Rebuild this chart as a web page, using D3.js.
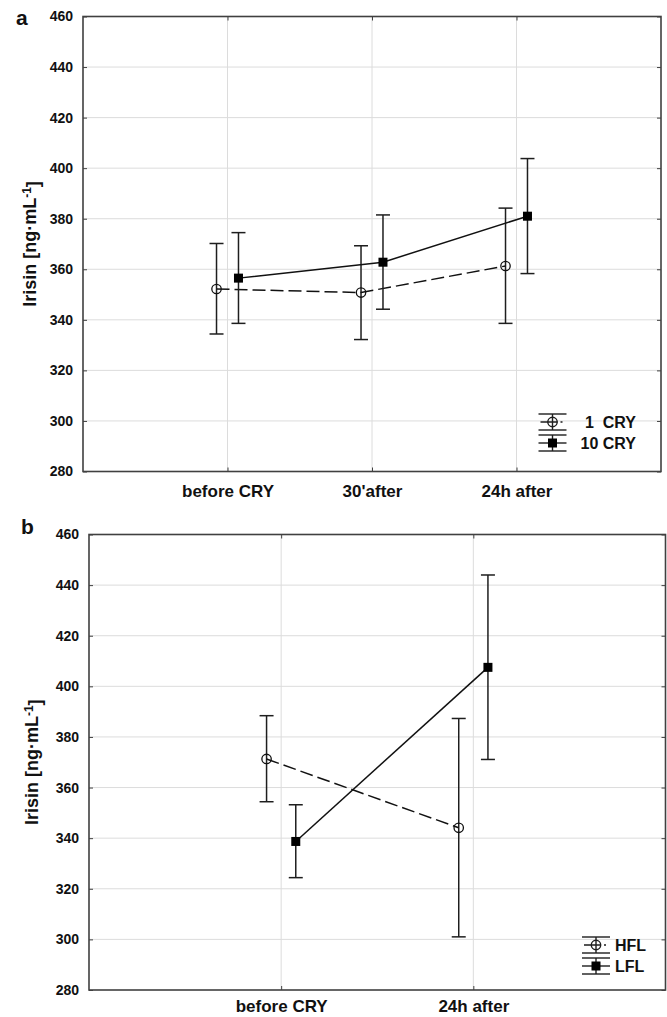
<!DOCTYPE html>
<html>
<head>
<meta charset="utf-8">
<script src="https://cdn.jsdelivr.net/npm/d3@7"></script>
<style>
  body { margin: 0; background: #fff; }
  svg text { font-family: "Liberation Sans", Arial, sans-serif; font-weight: bold; fill: #111; }
</style>
</head>
<body>
<div id="chart"></div>
<script>
// values (mean and error bar ends)
var yTicks = [280, 300, 320, 340, 360, 380, 400, 420, 440, 460];

var catsA = ["before CRY", "30'after", "24h after"];
var cry1Mean = [352.2, 350.8, 361.3];
var cry1Hi = [370.2, 369.3, 384.2];
var cry1Lo = [334.4, 332.2, 338.6];
var cry10Mean = [356.5, 362.8, 381.0];
var cry10Hi = [374.5, 381.5, 403.8];
var cry10Lo = [338.6, 344.2, 358.3];

var catsB = ["before CRY", "24h after"];
var hflMean = [371.3, 344.1];
var hflHi = [388.4, 387.3];
var hflLo = [354.4, 301.0];
var lflMean = [338.7, 407.5];
var lflHi = [353.2, 444.0];
var lflLo = [324.4, 371.1];

var W = 667, H = 1017;
var svg = d3.select("#chart").append("svg")
    .attr("width", W)
    .attr("height", H);

function rows(mean, hi, lo) {
  return mean.map(function(m, i) { return { i: i, m: m, hi: hi[i], lo: lo[i] }; });
}

function drawPanel(p) {
  var x = d3.scaleLinear().domain([0, p.cats.length + 1]).range([p.left, p.right]);
  var y = d3.scaleLinear().domain([280, 460]).range([p.bottom, p.top]);
  var g = svg.append("g");
  var idx = d3.range(1, p.cats.length + 1);

  // grid
  g.append("g").selectAll("line")
      .data(yTicks.slice(1, -1))
    .enter().append("line")
      .attr("x1", p.left).attr("x2", p.right)
      .attr("y1", function(d) { return y(d); })
      .attr("y2", function(d) { return y(d); })
      .attr("stroke", "#dcdcdc").attr("stroke-width", 1);
  g.append("g").selectAll("line")
      .data(idx)
    .enter().append("line")
      .attr("y1", p.top).attr("y2", p.bottom)
      .attr("x1", function(d) { return x(d); })
      .attr("x2", function(d) { return x(d); })
      .attr("stroke", "#dcdcdc").attr("stroke-width", 1);

  // axes with small inside ticks
  var yAxis = d3.axisLeft(y).tickValues(yTicks).tickSizeInner(-4).tickSizeOuter(0).tickPadding(10);
  var gy = g.append("g").attr("transform", "translate(" + p.left + ",0)").call(yAxis);
  gy.selectAll("text").style("font-size", "14px");

  g.append("g").attr("transform", "translate(" + p.right + ",0)")
      .call(d3.axisRight(y).tickValues(yTicks).tickSizeInner(-4).tickSizeOuter(0).tickFormat(""));

  var xAxis = d3.axisBottom(x).tickValues(idx).tickSizeInner(-4).tickSizeOuter(0)
      .tickPadding(p.xPad)
      .tickFormat(function(d) { return p.cats[d - 1]; });
  var gx = g.append("g").attr("transform", "translate(0," + p.bottom + ")").call(xAxis);
  gx.selectAll("text").style("font-size", "17px");

  g.append("g").attr("transform", "translate(0," + p.top + ")")
      .call(d3.axisTop(x).tickValues(idx).tickSizeInner(-4).tickSizeOuter(0).tickFormat(""));

  g.selectAll(".domain").remove();
  g.selectAll(".tick line").attr("stroke", "#404040");

  // frame
  g.append("rect")
      .attr("x", p.left).attr("y", p.top)
      .attr("width", p.right - p.left).attr("height", p.bottom - p.top)
      .attr("fill", "none").attr("stroke", "#404040").attr("stroke-width", 1.6);

  // y title
  var t = g.append("text")
      .attr("transform", "translate(" + p.titleX + "," + (p.top + p.bottom) / 2 + ") rotate(-90)")
      .attr("text-anchor", "middle")
      .style("font-size", "18px");
  t.append("tspan").text("Irisin [ng\u00b7mL");
  t.append("tspan").attr("dy", "-0.45em").style("font-size", "12px").text("-1");
  t.append("tspan").attr("dy", "0.45em").text("]");

  g.append("text")
      .attr("x", p.letterX).attr("y", p.letterY)
      .style("font-size", "21px")
      .text(p.letter);

  // series
  var off = 0.076;
  p.series.forEach(function(s, k) {
    var dx = k === 0 ? -off : off;
    var data = rows(s.mean, s.hi, s.lo);
    var px = function(d) { return x(d.i + 1 + dx); };

    var eb = g.append("g").selectAll("g")
        .data(data)
      .enter().append("g")
        .attr("stroke", "#1e1e1e").attr("stroke-width", 1.5);
    eb.append("line")
        .attr("x1", px).attr("x2", px)
        .attr("y1", function(d) { return y(d.hi); })
        .attr("y2", function(d) { return y(d.lo); });
    eb.append("line")
        .attr("x1", function(d) { return px(d) - 7; })
        .attr("x2", function(d) { return px(d) + 7; })
        .attr("y1", function(d) { return y(d.hi); })
        .attr("y2", function(d) { return y(d.hi); });
    eb.append("line")
        .attr("x1", function(d) { return px(d) - 7; })
        .attr("x2", function(d) { return px(d) + 7; })
        .attr("y1", function(d) { return y(d.lo); })
        .attr("y2", function(d) { return y(d.lo); });

    g.append("path")
        .datum(data)
        .attr("fill", "none")
        .attr("stroke", "#111")
        .attr("stroke-width", 1.5)
        .attr("stroke-dasharray", k === 0 ? "13,5" : null)
        .attr("d", d3.line().x(px).y(function(d) { return y(d.m); }));

    if (k === 0) {
      g.append("g").selectAll("circle")
          .data(data)
        .enter().append("circle")
          .attr("cx", px)
          .attr("cy", function(d) { return y(d.m); })
          .attr("r", 4.7)
          .attr("fill", "none")
          .attr("stroke", "#111").attr("stroke-width", 1.3);
    } else {
      g.append("g").selectAll("rect")
          .data(data)
        .enter().append("rect")
          .attr("x", function(d) { return px(d) - 4.5; })
          .attr("y", function(d) { return y(d.m) - 4.5; })
          .attr("width", 9).attr("height", 9)
          .attr("fill", "#000");
    }
  });

  // legend
  p.series.forEach(function(s, k) {
    var cx = p.legX, cy = p.legY + k * 21;
    var lg = g.append("g").attr("stroke", "#1e1e1e").attr("stroke-width", 1.4);
    lg.append("line").attr("x1", cx - 14).attr("x2", cx + 14).attr("y1", cy - 8).attr("y2", cy - 8);
    lg.append("line").attr("x1", cx - 14).attr("x2", cx + 14).attr("y1", cy + 8).attr("y2", cy + 8);
    lg.append("line").attr("x1", cx).attr("x2", cx).attr("y1", cy - 8).attr("y2", cy + 8);
    if (k === 0) {
      lg.append("line").attr("x1", cx - 12).attr("x2", cx + 10).attr("y1", cy).attr("y2", cy)
          .attr("stroke-dasharray", "17,3,5");
      lg.append("circle").attr("cx", cx).attr("cy", cy).attr("r", 4.7).attr("fill", "none");
    } else {
      lg.append("line").attr("x1", cx - 14).attr("x2", cx + 14).attr("y1", cy).attr("y2", cy);
      lg.append("rect").attr("x", cx - 4.5).attr("y", cy - 4.5).attr("width", 9).attr("height", 9)
          .attr("fill", "#000").attr("stroke", "none");
    }
    g.append("text")
        .attr("x", p.legTextX).attr("y", cy)
        .attr("dy", "0.36em")
        .attr("text-anchor", p.legAnchor)
        .style("font-size", "16px")
        .style("white-space", "pre")
        .text(s.name);
  });
}

drawPanel({
  letter: "a", letterX: 16, letterY: 25,
  left: 83, right: 661, top: 16.5, bottom: 471.5,
  titleX: 36, xPad: 13,
  cats: catsA,
  series: [
    { name: "1  CRY", mean: cry1Mean, hi: cry1Hi, lo: cry1Lo },
    { name: "10 CRY", mean: cry10Mean, hi: cry10Hi, lo: cry10Lo }
  ],
  legX: 552.5, legY: 422, legTextX: 636, legAnchor: "end"
});

drawPanel({
  letter: "b", letterX: 21, letterY: 534,
  left: 89, right: 665.5, top: 534.5, bottom: 990,
  titleX: 38, xPad: 10,
  cats: catsB,
  series: [
    { name: "HFL", mean: hflMean, hi: hflHi, lo: hflLo },
    { name: "LFL", mean: lflMean, hi: lflHi, lo: lflLo }
  ],
  legX: 596, legY: 945, legTextX: 615, legAnchor: "start"
});
</script>
</body>
</html>
